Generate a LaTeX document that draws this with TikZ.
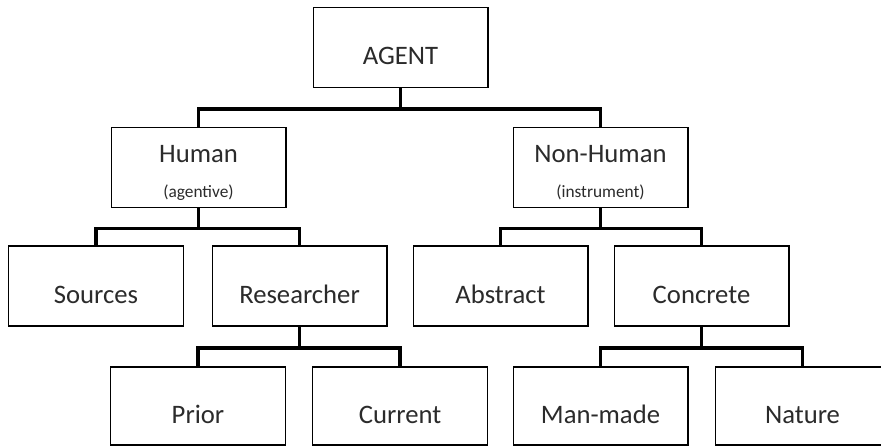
\documentclass[tikz,border=0pt]{standalone}
\usepackage{fontspec}
\setmainfont{Carlito}
\definecolor{cInk}{HTML}{2B2B2B}

\begin{document}
\begin{tikzpicture}[x=0.75pt,y=-0.75pt,
      font=\fontsize{20}{24}\selectfont,
      frame/.style={draw=black,line width=1pt,fill=white,text=cInk,
                    minimum width=131pt,minimum height=60pt,inner sep=0pt},
      box/.style={frame,text height=26pt,text depth=0pt},
      duo/.style={frame,align=center},
      link/.style={line width=2.6pt,black}]
    \useasboundingbox (0,0) rectangle (881,446);
    % top
    \node[box] (agent) at (400.5,47.5) {AGENT};
    % second level
    \node[duo] (human) at (198.5,167.5)
      {\rule{0pt}{21pt}Human\\[2pt]{\fontsize{13}{15}\selectfont(agentive)}};
    \node[duo] (nonhuman) at (600.5,167.5)
      {\rule{0pt}{21pt}Non-Human\\[2pt]{\fontsize{13}{15}\selectfont(instrument)}};
    % third level
    \node[box] (sources) at (96,286) {Sources};
    \node[box] (researcher) at (299.5,286) {Researcher};
    \node[box] (abstract) at (500.5,286) {Abstract};
    \node[box] (concrete) at (701.5,286) {Concrete};
    % fourth level
    \node[box,minimum height=58.5pt] (prior) at (198,406) {Prior};
    \node[box,minimum height=58.5pt] (current) at (400,406) {Current};
    \node[box,minimum height=58.5pt] (manmade) at (600.5,406) {Man-made};
    \node[box,minimum height=58.5pt] (nature) at (802.5,406) {Nature};
    % connectors
    \draw[link] (agent.south) -- ++(0,21) coordinate (b0) -| (human.north);
    \draw[link] (b0) -| (nonhuman.north);
    \draw[link] (human.south) -- ++(0,20.5) coordinate (b1) -| (sources.north);
    \draw[link] (b1) -| (researcher.north);
    \draw[link] (nonhuman.south) -- ++(0,20.5) coordinate (b2) -| (abstract.north);
    \draw[link] (b2) -| (concrete.north);
    \draw[link] (researcher.south) -- ++(0,21.5) coordinate (b3) -| (prior.north);
    \draw[link] (b3) -| (current.north);
    \draw[link] (concrete.south) -- ++(0,21.5) coordinate (b4) -| (manmade.north);
    \draw[link] (b4) -| (nature.north);
  \end{tikzpicture}
\end{document}
